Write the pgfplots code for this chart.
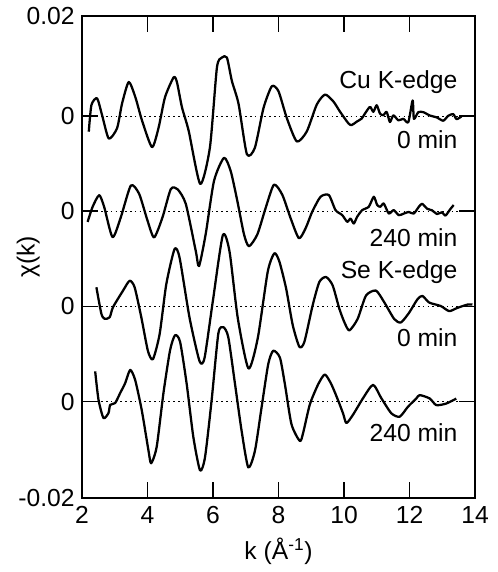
\documentclass[border=0pt]{standalone}
\usepackage{fontspec}
\setmainfont{Liberation Sans}
\usepackage{pgfplots}
\pgfplotsset{compat=1.18}
\begin{document}
\begin{tikzpicture}
\begin{axis}[
  scale only axis, width=294.75pt, height=361.5pt,
  xmin=2, xmax=14, ymin=-0.02, ymax=0.02,
  xtick={2,4,...,14},
  ytick={-0.02,-0.0120,-0.0041,0.0038,0.0117,0.02},
  yticklabels={-0.02,0,0,0,0,0.02},
  scaled y ticks=false,
  /pgf/number format/assume math mode=true,
  tick label style={font=\fontsize{18.5}{20}\selectfont},
  label style={font=\fontsize{18.5}{20}\selectfont},
  major tick length=12pt,
  tick style={line width=1.3pt, black},
  axis line style={line width=1.5pt},
  xlabel={k (Å\textsuperscript{-1})},
  ylabel={χ(k)},
  x label style={at={(axis description cs:0.5,-0.11)},anchor=center},
  y label style={at={(axis description cs:-0.137,0.5)},anchor=center},
  xticklabel style={yshift=-3pt},
  yticklabel style={xshift=-2pt},
  clip=false,
]
% dotted baselines
\addplot[black, no markers, line width=0.6pt, dash pattern=on 1.2pt off 2.4pt] coordinates {(2,0.0117) (14,0.0117)};
\addplot[black, no markers, line width=0.6pt, dash pattern=on 1.2pt off 2.4pt] coordinates {(2,0.0038) (14,0.0038)};
\addplot[black, no markers, line width=0.6pt, dash pattern=on 1.2pt off 2.4pt] coordinates {(2,-0.0041) (14,-0.0041)};
\addplot[black, no markers, line width=0.6pt, dash pattern=on 1.2pt off 2.4pt] coordinates {(2,-0.0120) (14,-0.0120)};

% Cu K-edge 0 min
\addplot[black, no markers, solid, smooth, tension=0.4, line width=1.7pt, line join=round] table[x=k, y expr=\thisrow{chi}+0.0117] {
k chi
2.207 -0.00130
2.287 0.00091
2.460 0.00147
2.613 0.00007
2.817 -0.00187
3.070 -0.00101
3.223 0.00104
3.427 0.00282
3.628 0.00157
3.832 -0.00037
4.137 -0.00258
4.341 -0.00093
4.534 0.00156
4.799 0.00321
4.899 0.00280
5.052 0.00072
5.256 -0.00122
5.610 -0.00564
5.905 -0.00261
6.119 0.00402
6.271 0.00485
6.424 0.00485
6.576 0.00291
6.780 0.00100
7.034 -0.00316
7.277 -0.00264
7.543 0.00068
7.796 0.00247
8.000 0.00205
8.253 -0.00017
8.558 -0.00211
8.863 -0.00128
9.168 0.00095
9.421 0.00178
9.677 0.00120
9.878 0.00036
10.134 -0.00061
10.235 -0.00075
10.387 -0.00047
10.540 -0.00021
10.640 0.00021
10.793 0.00076
10.896 0.00035
10.997 0.00090
11.098 0.00020
11.201 0.00007
11.302 0.00034
11.402 -0.00050
11.506 0.00006
11.659 -0.00036
11.811 -0.00023
11.963 -0.00051
12.095 0.00129
12.134 -0.00023
12.268 0.00032
12.421 0.00032
12.622 0.00004
12.826 -0.00011
13.030 -0.00039
13.183 0.00002
13.335 0.00016
13.436 -0.00026
13.588 -0.00003
};

% Cu K-edge 240 min
\addplot[black, no markers, solid, smooth, tension=0.4, line width=1.7pt, line join=round] table[x=k, y expr=\thisrow{chi}+0.0038] {
k chi
2.171 -0.00089
2.323 0.00036
2.524 0.00133
2.677 0.00035
2.933 -0.00215
3.186 -0.00049
3.491 0.00213
3.744 0.00144
4.000 -0.00078
4.201 -0.00217
4.457 -0.00051
4.710 0.00183
4.915 0.00183
5.168 0.00061
5.473 -0.00330
5.573 -0.00455
5.777 -0.00189
6.030 0.00251
6.335 0.00443
6.540 0.00333
6.744 0.00083
6.945 -0.00191
7.098 -0.00291
7.354 -0.00192
7.607 0.00027
7.860 0.00220
8.116 0.00136
8.369 -0.00058
8.622 -0.00224
8.826 -0.00142
9.030 -0.00004
9.284 0.00120
9.537 0.00134
9.741 0.00009
9.945 -0.00032
10.098 -0.00088
10.198 -0.00061
10.299 -0.00102
10.402 -0.00046
10.555 0.00009
10.756 0.00037
10.909 0.00120
11.012 0.00051
11.113 0.00037
11.213 0.00064
11.366 -0.00019
11.518 0.00009
11.671 -0.00033
11.823 -0.00020
11.976 -0.00006
12.128 -0.00020
12.280 0.00035
12.384 0.00062
12.537 0.00021
12.689 0.00007
12.841 -0.00023
12.994 -0.00009
13.095 -0.00037
13.247 0.00018
13.348 0.00051
};

% Se K-edge 0 min
\addplot[black, no markers, solid, smooth, tension=0.4, line width=1.7pt, line join=round] table[x=k, y expr=\thisrow{chi}-0.0041] {
k chi
2.439 0.00159
2.591 -0.00061
2.692 -0.00103
2.845 -0.00090
2.945 -0.00007
3.250 0.00130
3.454 0.00213
3.607 0.00158
3.811 -0.00091
4.012 -0.00369
4.165 -0.00438
4.369 -0.00231
4.573 0.00184
4.826 0.00476
4.979 0.00404
5.284 -0.00095
5.588 -0.00454
5.741 -0.00427
5.994 0.00043
6.299 0.00590
6.503 0.00457
6.756 -0.00097
7.082 -0.00515
7.366 -0.00264
7.671 0.00289
7.875 0.00441
8.027 0.00371
8.232 0.00149
8.433 -0.00154
8.637 -0.00335
8.790 -0.00294
9.043 0.00010
9.247 0.00203
9.451 0.00244
9.652 0.00175
9.857 -0.00019
10.009 -0.00130
10.162 -0.00199
10.415 -0.00104
10.671 0.00090
10.976 0.00131
11.229 0.00034
11.534 -0.00105
11.738 -0.00133
11.991 -0.00051
12.244 0.00060
12.396 0.00087
12.601 0.00032
12.957 0.00003
13.210 -0.00039
13.463 -0.00012
13.768 0.00015
13.921 0.00015
};

% Se K-edge 240 min
\addplot[black, no markers, solid, smooth, tension=0.4, line width=1.7pt, line join=round] table[x=k, y expr=\thisrow{chi}-0.0120] {
k chi
2.402 0.00251
2.503 0.00016
2.655 -0.00136
2.808 -0.00095
2.860 -0.00027
3.012 -0.00012
3.165 0.00071
3.317 0.00153
3.470 0.00263
3.622 0.00180
3.823 -0.00070
4.027 -0.00402
4.110 -0.00512
4.280 -0.00375
4.485 0.00068
4.689 0.00427
4.841 0.00551
4.994 0.00496
5.195 0.00149
5.399 -0.00294
5.604 -0.00571
5.756 -0.00461
5.957 0.00010
6.162 0.00564
6.314 0.00618
6.466 0.00535
6.671 0.00147
6.872 -0.00241
7.076 -0.00546
7.280 -0.00408
7.482 -0.00049
7.686 0.00311
7.838 0.00422
8.043 0.00365
8.195 0.00144
8.396 -0.00188
8.652 -0.00327
8.753 -0.00258
8.957 -0.00023
9.210 0.00143
9.415 0.00225
9.616 0.00142
9.820 0.00010
9.973 -0.00100
10.073 -0.00178
10.277 -0.00108
10.582 0.00029
10.887 0.00139
11.140 0.00028
11.445 -0.00097
11.701 -0.00125
11.954 -0.00042
12.207 0.00026
12.311 0.00054
12.616 0.00026
12.817 -0.00029
13.122 -0.00016
13.427 0.00025
};

\node[anchor=east, font=\fontsize{18.5}{20}\selectfont] at (rel axis cs:0.967,0.863) {Cu K-edge};
\node[anchor=east, font=\fontsize{18.5}{20}\selectfont] at (rel axis cs:0.967,0.743) {0 min};
\node[anchor=east, font=\fontsize{18.5}{20}\selectfont] at (rel axis cs:0.967,0.541) {240 min};
\node[anchor=east, font=\fontsize{18.5}{20}\selectfont] at (rel axis cs:0.967,0.469) {Se K-edge};
\node[anchor=east, font=\fontsize{18.5}{20}\selectfont] at (rel axis cs:0.967,0.332) {0 min};
\node[anchor=east, font=\fontsize{18.5}{20}\selectfont] at (rel axis cs:0.967,0.135) {240 min};

\path (rel axis cs:-0.2087,-0.1535) rectangle (rel axis cs:1.056,1.0332);
\end{axis}
\end{tikzpicture}
\end{document}
